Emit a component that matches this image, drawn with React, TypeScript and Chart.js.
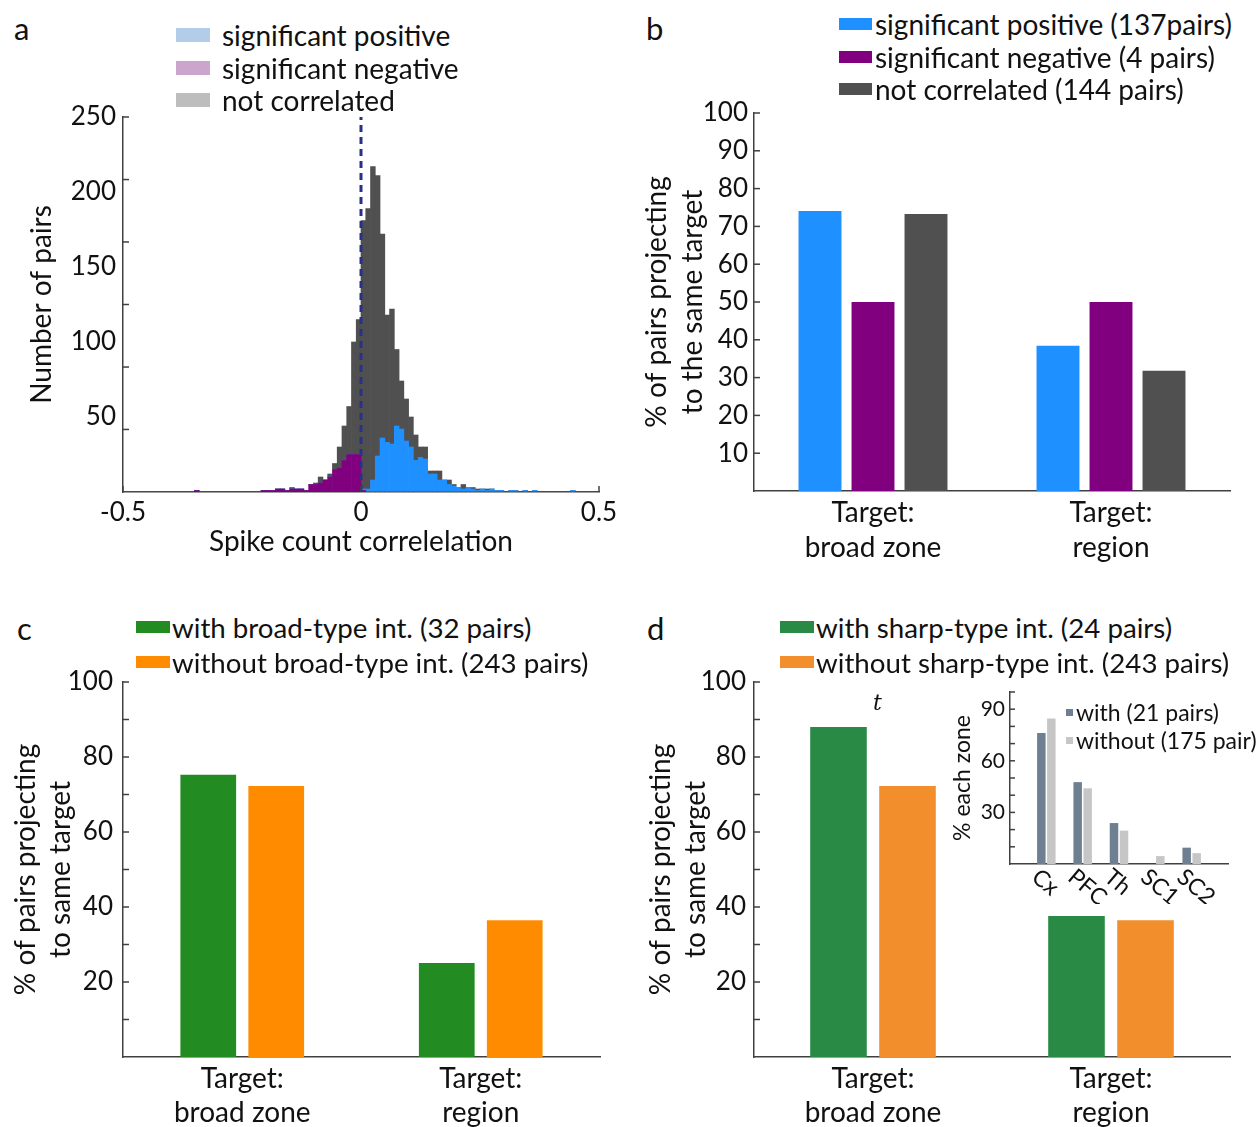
import React, { useEffect, useRef } from 'react';
import { Chart, registerables } from 'chart.js';

Chart.register(...registerables);

const FONT = 'Lato, "Noto Sans", sans-serif';
const TEXT = '#111111';
const AXIS = '#404040';

// ---------- Panel a: histogram of spike count correlations (bin width 0.01, -0.5..0.5) ----------
const binEdgesStart = -0.5;
const binWidth = 0.01;
const negPairs = [
  0, 0, 0, 0, 0, 0, 0, 0, 0, 0,
  0, 0, 0, 0, 0, 1, 0, 0, 0, 0,
  0, 0, 0, 0, 0, 0, 0, 0, 0, 1,
  1, 1, 2, 2, 1, 2, 2, 2, 1, 5,
  5, 6, 8, 10, 15, 16, 21, 25, 25, 25,
  1, 0, 0, 0, 0, 0, 0, 0, 0, 0,
  0, 0, 0, 0, 0, 0, 0, 0, 0, 0,
  0, 0, 0, 0, 0, 0, 0, 0, 0, 0,
  0, 0, 0, 0, 0, 0, 0, 0, 0, 0,
  0, 0, 0, 0, 0, 0, 0, 0, 0, 0,
];
const posPairs = [
  0, 0, 0, 0, 0, 0, 0, 0, 0, 0,
  0, 0, 0, 0, 0, 0, 0, 0, 0, 0,
  0, 0, 0, 0, 0, 0, 0, 0, 0, 0,
  0, 0, 0, 0, 0, 0, 0, 0, 0, 0,
  0, 0, 0, 0, 0, 0, 0, 0, 0, 0,
  1, 2, 8, 24, 36, 33, 32, 44, 42, 34,
  30, 21, 23, 22, 12, 12, 8, 8, 5, 4,
  3, 2, 3, 2, 1, 2, 1, 2, 1, 1,
  0, 1, 1, 0, 1, 0, 1, 0, 0, 0,
  0, 0, 0, 0, 1, 0, 0, 0, 0, 0,
];
const nonPairs = [
  0, 0, 0, 0, 0, 0, 0, 0, 0, 0,
  0, 0, 0, 0, 0, 0, 0, 0, 0, 0,
  0, 0, 0, 0, 0, 0, 0, 0, 0, 0,
  0, 0, 0, 0, 0, 1, 0, 0, 0, 0,
  1, 4, 0, 2, 4, 14, 23, 32, 75, 90,
  179, 187, 209, 187, 136, 85, 90, 51, 32, 28,
  20, 17, 7, 8, 2, 2, 6, 0, 3, 1,
  0, 3, 0, 1, 1, 0, 1, 0, 0, 0,
  0, 0, 0, 0, 0, 0, 0, 0, 0, 0,
  0, 0, 0, 0, 0, 0, 0, 0, 0, 0,
];
const binCenters = negPairs.map((_, i) => (binEdgesStart + binWidth * (i + 0.5)).toFixed(3));
const countTickMarks = [41.7, 83.3, 125, 166.7, 208.3, 250];
const corrTickMarks = [-0.5, 0, 0.5];

// ---------- Panel b ----------
const targetCats = [['Target:', 'broad zone'], ['Target:', 'region']];
const sigPosPct = [74.1, 38.4];
const sigNegPct = [50, 50];
const notCorrPct = [73.3, 31.8];
const tensTicks = [10, 20, 30, 40, 50, 60, 70, 80, 90, 100];

// ---------- Panel c ----------
const withBroadPct = [75.3, 25.1];
const withoutBroadPct = [72.3, 36.5];

// ---------- Panel d ----------
const withSharpPct = [88.0, 37.6];
const withoutSharpPct = [72.3, 36.5];

// ---------- Inset ----------
const zoneCats = ['', 'Cx', 'PFC', 'Th', 'SC1', 'SC2', ''];
const insetWith = [76.2, 47.6, 23.8, 0, 9.5];
const insetWithout = [84.6, 44.0, 19.4, 4.6, 6.3];

// ---------- helpers ----------
type Mark = { axis: string; values: number[]; len: number };
function makeInTicks(marks: Mark[]) {
  return {
    id: 'inTicks',
    afterDraw(chart: any) {
      const ctx = chart.ctx;
      ctx.save();
      ctx.strokeStyle = AXIS;
      ctx.lineWidth = 1.5;
      for (const m of marks) {
        const s = chart.scales[m.axis];
        if (!s) continue;
        for (const v of m.values) {
          const p = s.getPixelForValue(v);
          ctx.beginPath();
          if (s.isHorizontal()) {
            ctx.moveTo(p, s.top);
            ctx.lineTo(p, s.top - m.len);
          } else {
            ctx.moveTo(s.right, p);
            ctx.lineTo(s.right + m.len, p);
          }
          ctx.stroke();
        }
      }
      ctx.restore();
    },
  };
}

const rotatedLabels = {
  id: 'rotLabels',
  afterDraw(chart: any) {
    const s = chart.scales.x;
    const ctx = chart.ctx;
    ctx.save();
    ctx.fillStyle = TEXT;
    ctx.font = `23px ${FONT}`;
    ctx.textAlign = 'left';
    ctx.textBaseline = 'top';
    s.ticks.forEach((t: any, i: number) => {
      const lab = s.getLabelForValue(t.value);
      if (!lab) return;
      const px = s.getPixelForTick(i);
      ctx.save();
      ctx.translate(px - 4, s.top + 1);
      ctx.rotate((40 * Math.PI) / 180);
      ctx.fillText(lab, 0, 0);
      ctx.restore();
    });
    ctx.restore();
  },
};

const f = (size: number, lineHeight = 1.2) => ({ family: FONT, size, lineHeight });
const border = { display: true, color: AXIS, width: 1.5 };

function yAxis(o: { max: number; step: number; show: (v: number) => boolean; title: string[]; lh: number; pad: number; width: number; tickSize?: number; titleSize?: number }) {
  const tickSize = o.tickSize ?? 26;
  const titleSize = o.titleSize ?? 28;
  return {
    min: 0,
    max: o.max,
    grid: { display: false, drawTicks: false },
    border,
    ticks: {
      stepSize: o.step,
      padding: o.pad,
      color: TEXT,
      font: f(tickSize),
      autoSkip: false,
      callback: (v: number) => (o.show(v) ? String(v) : ''),
    },
    title: { display: true, text: o.title, color: TEXT, font: f(titleSize, o.lh), padding: 0 },
    afterFit: (s: any) => {
      s.width = o.width;
    },
  };
}

function catAxis(o: { pad: number; height: number; lh: number }) {
  return {
    grid: { display: false, drawTicks: false },
    border,
    ticks: { padding: o.pad, color: TEXT, font: f(28, o.lh), maxRotation: 0, autoSkip: false },
    afterFit: (s: any) => {
      s.height = o.height;
    },
  };
}

const base = {
  responsive: false,
  animation: false,
  devicePixelRatio: 1,
  events: [],
};

const PAD_TOP = 30;

function cfgA(): any {
  return {
    type: 'bar',
    data: {
      labels: binCenters,
      datasets: [
        { label: 'significant negative', data: negPairs, backgroundColor: '#800080', order: 1 },
        { label: 'significant positive', data: posPairs, backgroundColor: '#1e90ff', order: 1 },
        { label: 'not correlated', data: nonPairs, backgroundColor: '#505050', order: 1 },
        {
          type: 'line',
          label: 'zero',
          data: [{ x: 0, y: 0 }, { x: 0, y: 250 }],
          xAxisID: 'xl',
          yAxisID: 'yl',
          borderColor: '#28308c',
          borderWidth: 3,
          borderDash: [7, 5],
          pointRadius: 0,
          order: 0,
        },
      ],
    },
    options: {
      ...base,
      layout: { padding: { top: PAD_TOP, right: 30, left: 0, bottom: 0 } },
      plugins: { legend: { display: false }, tooltip: { enabled: false } },
      datasets: { bar: { barPercentage: 1, categoryPercentage: 1, borderWidth: 0, grouped: false } },
      scales: {
        x: { display: false, stacked: true },
        xl: {
          type: 'linear',
          position: 'bottom',
          offset: false,
          min: -0.5,
          max: 0.5,
          grid: { display: false, drawTicks: false, offset: false },
          border,
          ticks: {
            stepSize: 0.5,
            padding: 5,
            color: TEXT,
            font: f(26),
            callback: (v: number) => (v === 0 ? '0' : v.toFixed(1)),
          },
          title: { display: true, text: 'Spike count correlelation', color: TEXT, font: f(28), padding: 0 },
          afterFit: (s: any) => {
            s.height = 67;
          },
        },
        y: {
          stacked: true,
          ...yAxis({ max: 250, step: 50, show: (v) => v > 0, title: ['Number of pairs'], lh: 1.2, pad: 7, width: 98 }),
        },
        yl: { display: false, min: 0, max: 250 },
      },
    },
    plugins: [
      makeInTicks([
        { axis: 'y', values: countTickMarks, len: 6 },
        { axis: 'xl', values: corrTickMarks, len: 6 },
      ]),
    ],
  };
}

function cfgB(): any {
  return {
    type: 'bar',
    data: {
      labels: targetCats,
      datasets: [
        { label: 'significant positive (137pairs)', data: sigPosPct, backgroundColor: '#1e90ff' },
        { label: 'significant negative (4 pairs)', data: sigNegPct, backgroundColor: '#800080' },
        { label: 'not correlated (144 pairs)', data: notCorrPct, backgroundColor: '#505050' },
      ],
    },
    options: {
      ...base,
      layout: { padding: { top: PAD_TOP, right: 10, left: 0, bottom: 0 } },
      plugins: { legend: { display: false }, tooltip: { enabled: false } },
      datasets: { bar: { barPercentage: 0.81, categoryPercentage: 0.668, borderWidth: 0 } },
      scales: {
        x: catAxis({ pad: 4, height: 80, lh: 1.25 }),
        y: yAxis({ max: 100, step: 10, show: (v) => v > 0, title: ['% of pairs projecting', 'to the same target'], lh: 1.286, pad: 6, width: 115 }),
      },
    },
    plugins: [makeInTicks([{ axis: 'y', values: tensTicks, len: 6 }])],
  };
}

function cfgCD(withVals: number[], withoutVals: number[], colors: string[], cp: number, yw: number, ypad: number): any {
  return {
    type: 'bar',
    data: {
      labels: targetCats,
      datasets: [
        { label: 'with', data: withVals, backgroundColor: colors[0] },
        { label: 'without', data: withoutVals, backgroundColor: colors[1] },
      ],
    },
    options: {
      ...base,
      layout: { padding: { top: PAD_TOP, right: 10, left: 0, bottom: 0 } },
      plugins: { legend: { display: false }, tooltip: { enabled: false } },
      datasets: { bar: { barPercentage: 0.82, categoryPercentage: cp, borderWidth: 0 } },
      scales: {
        x: catAxis({ pad: 5, height: 75, lh: 1.214 }),
        y: yAxis({ max: 100, step: 10, show: (v) => v > 0 && v % 20 === 0, title: ['% of pairs projecting', 'to same target'], lh: 1.25, pad: ypad, width: yw }),
      },
    },
    plugins: [makeInTicks([{ axis: 'y', values: tensTicks, len: 6 }])],
  };
}

function cfgInset(): any {
  return {
    type: 'bar',
    data: {
      labels: zoneCats,
      datasets: [
        { label: 'with (21 pairs)', data: [null, ...insetWith, null], backgroundColor: '#6e7f91' },
        { label: 'without (175 pair)', data: [null, ...insetWithout, null], backgroundColor: '#c6c6c6' },
      ],
    },
    options: {
      ...base,
      layout: { padding: { top: 24, right: 12, left: 0, bottom: 0 } },
      plugins: { legend: { display: false }, tooltip: { enabled: false } },
      datasets: { bar: { barPercentage: 0.85, categoryPercentage: 0.55, borderWidth: 0 } },
      scales: {
        x: {
          offset: false,
          grid: { display: false, drawTicks: false },
          border,
          ticks: { display: false, autoSkip: false },
          afterFit: (s: any) => {
            s.height = 40;
          },
        },
        y: yAxis({ max: 100, step: 10, show: (v) => v > 0 && v % 30 === 0, title: ['% each zone'], lh: 1.2, pad: 5, width: 61, tickSize: 21, titleSize: 23 }),
      },
    },
    plugins: [makeInTicks([{ axis: 'y', values: tensTicks, len: 5 }]), rotatedLabels],
  };
}

function ChartCanvas(props: { left: number; top: number; width: number; height: number; make: () => any }) {
  const ref = useRef<HTMLCanvasElement>(null);
  useEffect(() => {
    const chart = new Chart(ref.current as HTMLCanvasElement, props.make());
    return () => chart.destroy();
  }, []);
  return (
    <canvas
      ref={ref}
      width={props.width}
      height={props.height}
      style={{ position: 'absolute', left: props.left, top: props.top, width: props.width, height: props.height }}
    />
  );
}

type Item = { color: string; text: string };
function Legend(props: { x: number; y0: number; dy: number; boxW: number; boxH: number; gap: number; size: number; items: Item[] }) {
  return (
    <>
      {props.items.map((it, i) => (
        <div
          key={i}
          style={{
            position: 'absolute',
            left: props.x,
            top: props.y0 + i * props.dy - 16,
            height: 32,
            display: 'flex',
            alignItems: 'center',
            whiteSpace: 'nowrap',
            fontFamily: FONT,
            fontSize: props.size,
            color: TEXT,
          }}
        >
          <span style={{ display: 'inline-block', width: props.boxW, height: props.boxH, background: it.color, marginRight: props.gap }} />
          <span>{it.text}</span>
        </div>
      ))}
    </>
  );
}

function Letter(props: { x: number; y: number; t: string }) {
  return (
    <div style={{ position: 'absolute', left: props.x, top: props.y - 18, height: 36, lineHeight: '36px', fontFamily: FONT, fontSize: 31, color: TEXT }}>
      {props.t}
    </div>
  );
}

export default function App() {
  return (
    <div style={{ position: 'absolute', left: 0, top: 0, width: 1260, height: 1127, overflow: 'hidden', background: '#ffffff' }}>
      <ChartCanvas left={25} top={117 - PAD_TOP} width={604} height={PAD_TOP + 375 + 67} make={cfgA} />
      <ChartCanvas left={639} top={113 - PAD_TOP} width={601} height={PAD_TOP + 378 + 80} make={cfgB} />
      <ChartCanvas left={8} top={682 - PAD_TOP} width={602} height={PAD_TOP + 375 + 75} make={() => cfgCD(withBroadPct, withoutBroadPct, ['#228b22', '#ff8c00'], 0.57, 115, 10)} />
      <ChartCanvas left={643} top={682 - PAD_TOP} width={597} height={PAD_TOP + 375 + 75} make={() => cfgCD(withSharpPct, withoutSharpPct, ['#288a45', '#f28e2b'], 0.58, 111, 8)} />
      <ChartCanvas left={949} top={692 - 24} width={291} height={24 + 172 + 40} make={cfgInset} />

      <Letter x={14} y={28} t="a" />
      <Letter x={646} y={28} t="b" />
      <Letter x={17} y={628} t="c" />
      <Letter x={647} y={628} t="d" />

      <Legend
        x={176}
        y0={35}
        dy={32.5}
        boxW={34}
        boxH={14}
        gap={12}
        size={28}
        items={[
          { color: '#b3cde8', text: 'significant positive' },
          { color: '#cba5cb', text: 'significant negative' },
          { color: '#bdbdbd', text: 'not correlated' },
        ]}
      />
      <Legend
        x={839}
        y0={24}
        dy={32.5}
        boxW={33}
        boxH={12}
        gap={3}
        size={28}
        items={[
          { color: '#1e90ff', text: 'significant positive (137pairs)' },
          { color: '#800080', text: 'significant negative (4 pairs)' },
          { color: '#505050', text: 'not correlated (144 pairs)' },
        ]}
      />
      <Legend
        x={136}
        y0={627}
        dy={35}
        boxW={34}
        boxH={12}
        gap={2}
        size={27.7}
        items={[
          { color: '#228b22', text: 'with broad-type int. (32 pairs)' },
          { color: '#ff8c00', text: 'without broad-type int. (243 pairs)' },
        ]}
      />
      <Legend
        x={780}
        y0={627}
        dy={35}
        boxW={34}
        boxH={12}
        gap={2}
        size={27.7}
        items={[
          { color: '#288a45', text: 'with sharp-type int. (24 pairs)' },
          { color: '#f28e2b', text: 'without sharp-type int. (243 pairs)' },
        ]}
      />
      <Legend
        x={1066}
        y0={712}
        dy={28}
        boxW={7}
        boxH={7}
        gap={3}
        size={23}
        items={[
          { color: '#6e7f91', text: 'with (21 pairs)' },
          { color: '#c6c6c6', text: 'without (175 pair)' },
        ]}
      />
      <div style={{ position: 'absolute', left: 873, top: 690, fontFamily: '"DejaVu Serif", "Liberation Serif", serif', fontStyle: 'italic', fontSize: 22, color: TEXT }}>
        t
      </div>
    </div>
  );
}
